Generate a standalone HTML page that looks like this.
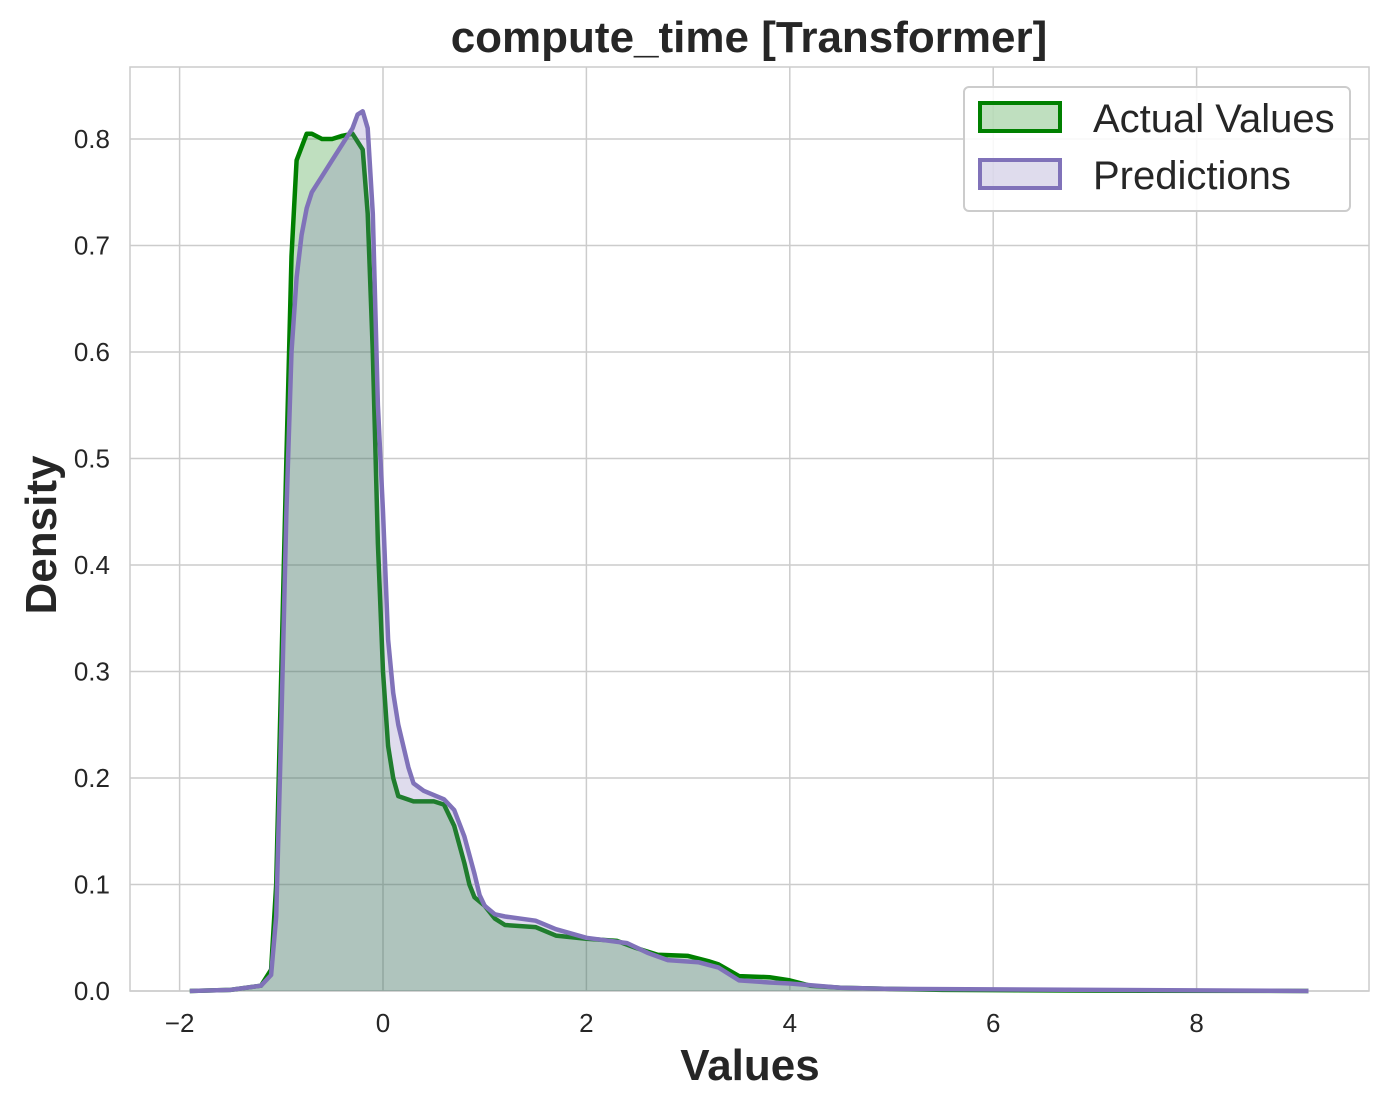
<!DOCTYPE html>
<html><head><meta charset="utf-8"><style>
body{margin:0;background:#fff;font-family:"Liberation Sans",Arial,sans-serif}
</style></head><body>
<svg id="chart" width="1389" height="1108" xmlns="http://www.w3.org/2000/svg">
<rect width="1389" height="1108" fill="#fff"/>
<g id="grid"></g>
<rect x="130" y="67" width="1239" height="924" fill="none" stroke="#ccc" stroke-width="1.5"/>
<g id="series"></g>
<g id="ticks"></g>
<text x="749" y="52" text-anchor="middle" font-size="44" font-weight="bold" fill="#262626">compute_time [Transformer]</text>
<text x="750" y="1080" text-anchor="middle" font-size="44" font-weight="bold" fill="#262626">Values</text>
<text transform="translate(56,535) rotate(-90)" text-anchor="middle" font-size="44" font-weight="bold" fill="#262626">Density</text>
<g>
<rect x="964" y="87" width="386" height="124" rx="5" fill="#fff" fill-opacity="0.85" stroke="#ccc" stroke-width="2"/>
<g>
<rect x="980" y="103" width="80" height="28" fill="rgba(0,128,0,0.25)" stroke="#008000" stroke-width="4"/>
<text x="1093" y="132" font-size="40" fill="#262626">Actual Values</text></g>
<g>
<rect x="980" y="160" width="80" height="28" fill="rgba(128,114,185,0.25)" stroke="#8072b9" stroke-width="4"/>
<text x="1093" y="189" font-size="40" fill="#262626">Predictions</text></g>
</g>
</svg>
<script>
const xTicks=[-2,0,2,4,6,8];
const yTicks=[0,0.1,0.2,0.3,0.4,0.5,0.6,0.7,0.8];
const actualX=[-1.9,-1.5,-1.2,-1.1,-1.05,-1.0,-0.95,-0.9,-0.85,-0.75,-0.7,-0.6,-0.5,-0.4,-0.3,-0.2,-0.15,-0.1,-0.05,0,0.05,0.1,0.15,0.3,0.5,0.6,0.7,0.8,0.85,0.9,1.0,1.1,1.2,1.5,1.7,2.0,2.3,2.5,2.7,3.0,3.2,3.3,3.5,3.8,4.0,4.2,4.5,5.0,5.5,6,7,9.1];
const actualY=[0,0.001,0.005,0.02,0.1,0.3,0.5,0.69,0.78,0.805,0.805,0.80,0.80,0.803,0.805,0.79,0.73,0.6,0.42,0.3,0.23,0.2,0.183,0.178,0.178,0.175,0.155,0.12,0.1,0.088,0.08,0.068,0.062,0.06,0.052,0.049,0.047,0.04,0.034,0.033,0.028,0.025,0.014,0.013,0.01,0.005,0.003,0.002,0.001,0.0008,0.0004,0];
const predX=[-1.9,-1.5,-1.2,-1.1,-1.05,-1.0,-0.95,-0.9,-0.85,-0.8,-0.75,-0.7,-0.6,-0.5,-0.4,-0.3,-0.25,-0.2,-0.15,-0.1,-0.05,0,0.05,0.1,0.15,0.25,0.3,0.4,0.6,0.7,0.8,0.9,0.95,1.0,1.1,1.2,1.5,1.7,2.0,2.4,2.6,2.8,3.1,3.3,3.5,3.8,4.0,4.5,5,9.1];
const predY=[0,0.001,0.005,0.015,0.07,0.25,0.45,0.6,0.67,0.71,0.735,0.75,0.765,0.78,0.795,0.81,0.823,0.826,0.81,0.73,0.55,0.45,0.33,0.28,0.25,0.21,0.195,0.188,0.18,0.17,0.145,0.11,0.09,0.08,0.072,0.07,0.066,0.058,0.05,0.045,0.036,0.029,0.027,0.022,0.01,0.008,0.007,0.003,0.002,0];
const NS='http://www.w3.org/2000/svg';
const sx=v=>383+v*101.7, sy=v=>991-v*1065;
const grid=document.getElementById('grid'),ticks=document.getElementById('ticks'),series=document.getElementById('series');
xTicks.forEach(t=>{
 const l=document.createElementNS(NS,'line');
 l.setAttribute('x1',sx(t));l.setAttribute('x2',sx(t));l.setAttribute('y1',67);l.setAttribute('y2',991);
 l.setAttribute('stroke','#ccc');l.setAttribute('stroke-width','1.5');
 
 
 grid.appendChild(l);
 const tx=document.createElementNS(NS,'text');
 tx.setAttribute('x',sx(t));tx.setAttribute('y',1032);tx.setAttribute('text-anchor','middle');tx.setAttribute('font-size','26');tx.setAttribute('fill','#262626');
 tx.textContent=t<0?'\u2212'+Math.abs(t):t;
 
 
 ticks.appendChild(tx);
});
yTicks.forEach(t=>{
 const l=document.createElementNS(NS,'line');
 l.setAttribute('x1',130);l.setAttribute('x2',1369);l.setAttribute('y1',sy(t));l.setAttribute('y2',sy(t));
 l.setAttribute('stroke','#ccc');l.setAttribute('stroke-width','1.5');
 
 
 grid.appendChild(l);
 const tx=document.createElementNS(NS,'text');
 tx.setAttribute('x',110);tx.setAttribute('y',sy(t)+9);tx.setAttribute('text-anchor','end');tx.setAttribute('font-size','26');tx.setAttribute('fill','#262626');
 tx.textContent=t.toFixed(1);
 
 
 ticks.appendChild(tx);
});
function draw(xs,ys,color,name){
 const pts=xs.map((x,i)=>sx(x).toFixed(1)+','+sy(ys[i]).toFixed(1));
 const f=document.createElementNS(NS,'path');
 f.setAttribute('d','M'+sx(xs[0])+','+sy(0)+' L'+pts.join(' L')+' L'+sx(xs[xs.length-1])+','+sy(0)+'Z');
 f.setAttribute('fill',color);f.setAttribute('fill-opacity','0.25');
 
 
 series.appendChild(f);
 const p=document.createElementNS(NS,'path');
 p.setAttribute('d','M'+pts.join(' L'));p.setAttribute('fill','none');p.setAttribute('stroke',color);p.setAttribute('stroke-width','4.5');p.setAttribute('stroke-linejoin','round');
 
 
 series.appendChild(p);
}
draw(actualX,actualY,'#008000','actual-values');
draw(predX,predY,'#8072b9','predictions');
</script>
</body></html>
